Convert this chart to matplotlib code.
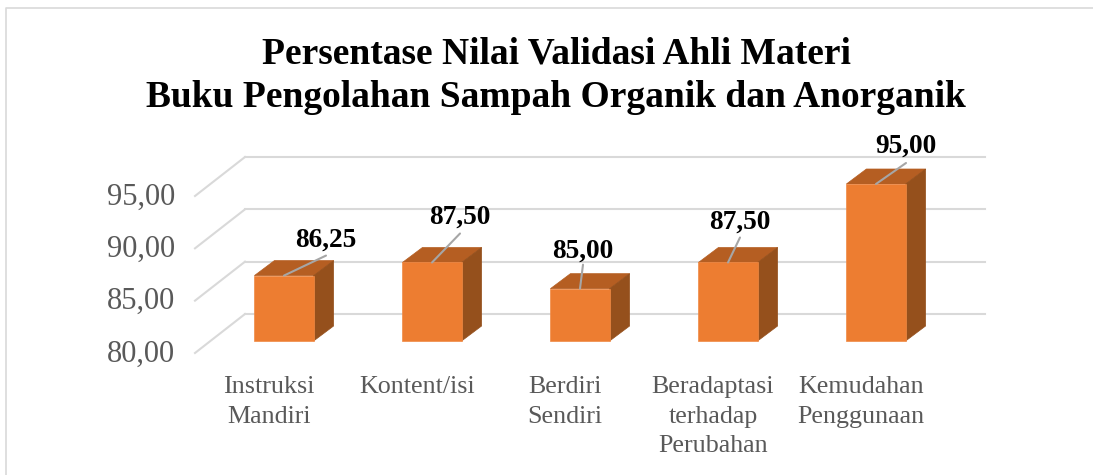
import matplotlib
matplotlib.use("Agg")
import matplotlib.pyplot as plt
from matplotlib.patches import Polygon, Rectangle
from matplotlib.transforms import Affine2D

plt.rcParams['font.family'] = ['Liberation Serif', 'DejaVu Serif']

categories = ["Instruksi\nMandiri", "Kontent/isi", "Berdiri\nSendiri", "Beradaptasi\nterhadap\nPerubahan", "Kemudahan\nPenggunaan"]
values = [86.25, 87.50, 85.00, 87.50, 95.00]
value_labels = ["86,25", "87,50", "85,00", "87,50", "95,00"]
y_ticks = [80, 85, 90, 95]
y_tick_labels = ["80,00", "85,00", "90,00", "95,00"]
title = "Persentase Nilai Validasi Ahli Materi\nBuku Pengolahan Sampah Organik dan Anorganik"

W, H = 1093, 475
fig = plt.figure(figsize=(W / 100, H / 100), dpi=100)
# axes = plane of the bar fronts, 80 at y=341px, 95 at y=184px
ax = fig.add_axes([210 / W, 1 - 341 / H, 740 / W, 157 / H])
ax.set_xlim(-0.5, 4.5)
ax.set_ylim(80, 95)
ax.axis("off")

# 3d look: shifts in pixels from the bar plane
back = ax.transData + Affine2D().translate(35, 27)
front = ax.transData + Affine2D().translate(-15, -12)
bar_w = 0.4
dx, dy = 20, 15

grid_col = "#d9d9d9"
for t in y_ticks:
    ax.plot([-0.5, 4.5], [t, t], color=grid_col, lw=1.5, transform=back, clip_on=False, zorder=1)
    # side wall line, front left corner to back left corner
    x0, y0 = front.transform((-0.5, t))
    x1, y1 = back.transform((-0.5, t))
    ax.plot([x0, x1], [y0, y1], color=grid_col, lw=1.5, transform=None, clip_on=False, zorder=1)

for i, v in enumerate(values):
    l, r = i - bar_w / 2, i + bar_w / 2
    # top and side faces: corners in display coords
    a = ax.transData.transform((l, v))
    b = ax.transData.transform((r, v))
    c = ax.transData.transform((r, 80))
    ax.add_patch(Polygon([a, b, b + (dx, dy), a + (dx, dy)], transform=None, fc="#b55e22", ec="#b55e22", lw=0.5, zorder=2, clip_on=False))
    ax.add_patch(Polygon([b, c, c + (dx, dy), b + (dx, dy)], transform=None, fc="#95501c", ec="#95501c", lw=0.5, zorder=2, clip_on=False))
    ax.add_patch(Rectangle((l, 80), bar_w, v - 80, fc="#ed7d31", ec="#f08a45", lw=0.5, zorder=3, clip_on=False))

# label offsets (pixels) from the middle of each bar's top edge
label_off = [(42, 35), (28, 45), (3, 37), (12, 40), (30, 38)]
line_off = [(42, 20), (28, 29), (3, 24), (12, 25), (30, 21)]
for i, v in enumerate(values):
    ax.annotate("", xy=(i, v), xytext=line_off[i], textcoords="offset pixels",
                arrowprops=dict(arrowstyle="-", color="#a6a6a6", lw=1.5, shrinkA=0, shrinkB=0), zorder=4)
    ax.annotate(value_labels[i], xy=(i, v), xytext=label_off[i], textcoords="offset pixels",
                ha="center", va="center", fontsize=19.7, fontweight="bold", color="black", zorder=5)

for t, s in zip(y_ticks, y_tick_labels):
    ax.annotate(s, xy=(-0.5, t), xytext=(-35, -13), textcoords="offset pixels",
                ha="right", va="center", fontsize=22, color="#595959")

for i, s in enumerate(categories):
    ax.annotate(s, xy=(i, 80), xytext=(-15, -35), textcoords="offset pixels",
                ha="center", va="top", fontsize=18.7, color="#595959", linespacing=1.45)

fig.text(556 / W, 1 - 76 / H, title, ha="center", va="center", fontsize=27, fontweight="bold", color="black", linespacing=1.3)

# chart frame, open at the bottom and right
fig.add_artist(plt.Line2D([6 / W, 6 / W, 1], [0, 1 - 7.5 / H, 1 - 7.5 / H], color="#d9d9d9", lw=1.2))

fig.savefig("out.png", dpi=100)
